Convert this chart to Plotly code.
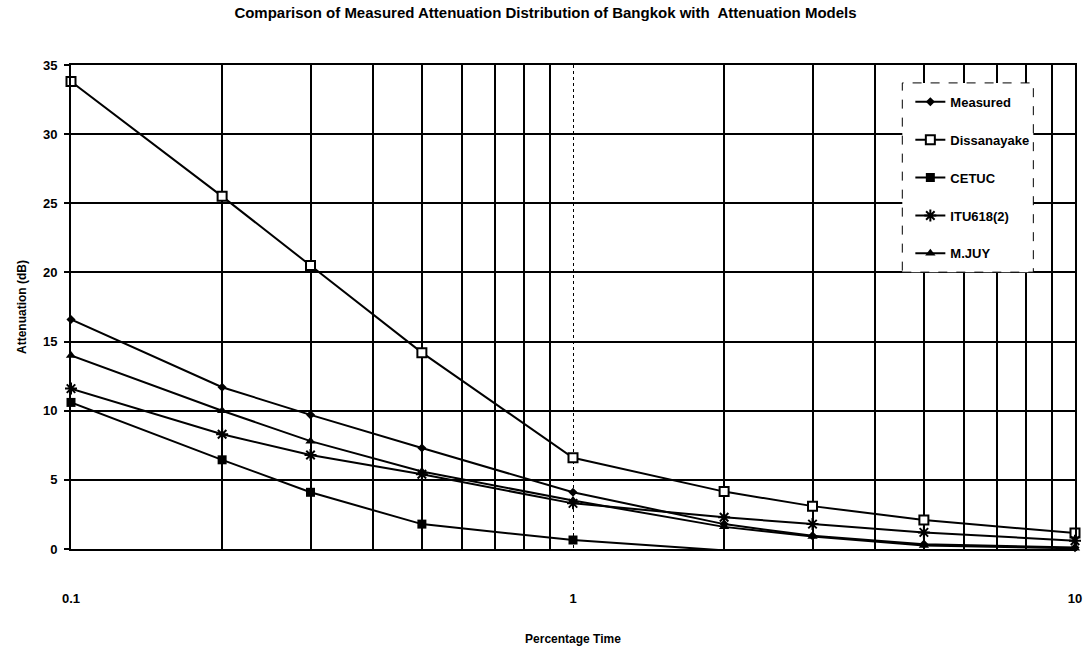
import plotly.graph_objects as go

# Percentage of time (%) at which each attenuation value is exceeded
pct_time = [0.1, 0.2, 0.3, 0.5, 1, 2, 3, 5, 10]

measured = [16.6, 11.7, 9.7, 7.3, 4.1, 1.8, 0.95, 0.35, 0.1]
dissanayake = [33.8, 25.5, 20.5, 14.2, 6.6, 4.15, 3.1, 2.1, 1.15]
cetuc = [10.6, 6.45, 4.1, 1.8, 0.65, -0.1, -0.1, -0.1, -0.1]
itu618 = [11.6, 8.3, 6.8, 5.4, 3.3, 2.3, 1.8, 1.2, 0.6]
mjuy = [14.0, 10.0, 7.8, 5.6, 3.5, 1.6, 0.9, 0.25, 0.05]

series_names = ["Measured", "Dissanayake", "CETUC", "ITU618(2)", "M.JUY"]
series_values = [measured, dissanayake, cetuc, itu618, mjuy]

x_tick_vals = [0.1, 1, 10]
x_tick_text = ["0.1", "1", "10"]
x_minor_vals = [0.2, 0.3, 0.4, 0.5, 0.6, 0.7, 0.8, 0.9, 2, 3, 4, 5, 6, 7, 8, 9]
y_tick_vals = [0, 5, 10, 15, 20, 25, 30, 35]

FONT = "Liberation Sans, Arial, sans-serif"

marker_styles = [
    dict(symbol="diamond", size=7, color="black"),
    dict(symbol="square", size=9, color="white", line=dict(color="black", width=2)),
    dict(symbol="square", size=9, color="black"),
    dict(symbol="asterisk-open", size=10, color="black", line=dict(color="black", width=2)),
    dict(symbol="triangle-up", size=9, color="black"),
]

fig = go.Figure()
for i, (name, vals) in enumerate(zip(series_names, series_values)):
    fig.add_trace(go.Scatter(
        x=pct_time, y=vals, name=name, mode="lines+markers",
        line=dict(color="black", width=2),
        marker=marker_styles[i],
        cliponaxis=False,
        legendgroup=name,
    ))

# Dashed frame behind the legend
fig.add_shape(type="rect", xref="paper", yref="paper",
              x0=0.828, x1=0.9585, y0=0.572, y1=0.963,
              fillcolor="white", line=dict(color="black", width=1, dash="dash"),
              layer="above")

fig.update_layout(
    width=1091, height=653,
    margin=dict(l=71, r=9, t=65, b=103),
    paper_bgcolor="white", plot_bgcolor="white",
    font=dict(family=FONT, size=13, color="black", weight="bold"),
    title=dict(text="Comparison of Measured Attenuation Distribution of Bangkok with  Attenuation Models",
               x=0.5, xanchor="center", y=0.98, yanchor="middle",
               font=dict(size=15, weight="bold")),
    showlegend=True,
    legend=dict(x=0.836, y=0.955, xanchor="left", yanchor="top",
                bgcolor="rgba(0,0,0,0)", borderwidth=0,
                tracegroupgap=18, font=dict(size=13, weight="bold")),
    xaxis=dict(
        type="log", range=[-1, 1],
        tickmode="array", tickvals=x_tick_vals, ticktext=x_tick_text,
        ticks="", ticklabelstandoff=36,
        tickfont=dict(size=13, weight="bold"),
        showgrid=True, gridcolor="black", gridwidth=1, griddash="dot",
        minor=dict(tickmode="array", tickvals=x_minor_vals, showgrid=True,
                   gridcolor="black", gridwidth=2, griddash="solid", ticks=""),
        showline=True, linecolor="black", linewidth=2, mirror=True,
        zeroline=False,
        title=dict(text="Percentage Time", standoff=30,
                   font=dict(size=12, weight="bold")),
    ),
    yaxis=dict(
        range=[0, 35],
        tickmode="array", tickvals=y_tick_vals,
        ticks="outside", ticklen=5, tickwidth=2, tickcolor="black",
        ticklabelstandoff=4,
        tickfont=dict(size=13, weight="bold"),
        showgrid=True, gridcolor="black", gridwidth=2,
        showline=True, linecolor="black", linewidth=2, mirror=True,
        zeroline=False,
        title=dict(text="Attenuation (dB)", standoff=14,
                   font=dict(size=12, weight="bold")),
    ),
)

fig.write_html("out.html")
